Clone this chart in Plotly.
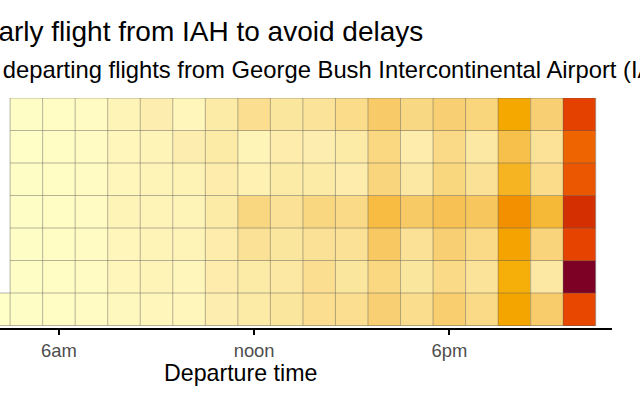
import math
import plotly.graph_objects as go

# ---- data (mean departure delay, minutes) ----
hours = list(range(4, 23))
days = ["Mon", "Tue", "Wed", "Thu", "Fri", "Sat", "Sun"]   # bottom -> top
hour_labels = {6: "6am", 12: "noon", 18: "6pm"}

# hours 4..22 ; None = no flights
mon = [0.6, 1.8, 2.4, 3.0, 4.3, 5.0, 5.0, 7.9, 9.4, 10.8, 13.0, 13.0, 16.9, 13.4, 17.4, 14.4, 26.6, 18.0, 42.0]
tue = [None, 1.8, 2.4, 3.0, 5.0, 5.8, 5.0, 8.6, 9.4, 10.1, 13.0, 10.8, 15.0, 10.8, 14.4, 11.5, 24.7, 10.1, 60.0]
wed = [None, 1.8, 2.4, 3.0, 5.0, 5.8, 5.8, 8.6, 12.2, 10.8, 12.2, 12.2, 18.8, 12.2, 17.1, 14.4, 27.2, 15.9, 42.6]
thu = [None, 1.8, 2.4, 3.0, 5.8, 5.8, 5.8, 9.4, 15.1, 12.2, 15.1, 14.4, 21.8, 18.4, 20.3, 19.4, 30.9, 22.5, 46.4]
fri = [None, 1.8, 2.4, 3.0, 5.0, 5.8, 6.5, 8.6, 7.2, 9.4, 9.4, 8.6, 15.6, 10.1, 15.3, 12.2, 23.5, 13.8, 40.1]
sat = [None, 1.2, 2.4, 3.0, 5.0, 5.8, 7.9, 9.4, 5.8, 8.6, 7.9, 9.4, 15.0, 8.6, 14.4, 10.1, 21.0, 11.9, 38.2]
sun = [None, 1.8, 2.4, 3.0, 5.8, 7.9, 5.0, 9.4, 13.0, 10.8, 11.5, 13.7, 18.2, 14.8, 17.1, 15.8, 26.0, 17.1, 43.2]
z = [mon, tue, wed, thu, fri, sat, sun]

title_text = "Take an early flight from IAH to avoid delays"
subtitle_text = "Average delay for departing flights from George Bush Intercontinental Airport (IAH)"
x_title = "Departure time"


# ---- colorspace sequential_hcl "YlOrRd" ----
def hcl_hex(L, C, H):
    h = math.radians(H)
    U, V = C * math.cos(h), C * math.sin(h)
    Xn, Yn, Zn = 95.047, 100.0, 108.883
    Y = Yn * ((L + 16) / 116) ** 3 if L > 8 else Yn * L / 903.3
    den = Xn + 15 * Yn + 3 * Zn
    un, vn = 4 * Xn / den, 9 * Yn / den
    u = U / (13 * L) + un
    v = V / (13 * L) + vn
    X = 9.0 * Y * u / (4 * v)
    Zc = -X / 3 - 5 * Y + 3 * Y / v
    x, y, zz = X / 100, Y / 100, Zc / 100
    rgb = [3.240479 * x - 1.537150 * y - 0.498535 * zz,
           -0.969256 * x + 1.875992 * y + 0.041556 * zz,
           0.055648 * x - 0.204043 * y + 1.057311 * zz]
    out = []
    for c in rgb:
        c = 12.92 * c if c <= 0.0031308 else 1.055 * (max(c, 0) ** (1 / 2.4)) - 0.055
        out.append(int(round(min(max(c, 0), 1) * 255)))
    return "#%02x%02x%02x" % tuple(out)


def ylorrd(i, h1=5, h2=85, c1=75, c2=40, cmax=180, l1=25, l2=99, p1=1.6, p2=1.3):
    j = 1 / (1 + abs(cmax - c1) / abs(cmax - c2))
    ip = i ** p1
    C = c2 + (cmax - c2) * ip / j if ip <= j else cmax - (cmax - c1) * (ip - j) / (1 - j)
    L = l2 - (l2 - l1) * i ** p2
    H = h2 - (h2 - h1) * i
    return hcl_hex(L, C, H)


n_stops = 41
colorscale = [[k / (n_stops - 1), ylorrd(k / (n_stops - 1))] for k in range(n_stops)]

vals = [v for row in z for v in row if v is not None]

fig = go.Figure()
fig.add_trace(go.Heatmap(
    x=hours, y=list(range(len(days))), z=z,
    colorscale=colorscale, zmin=min(vals), zmax=max(vals),
    showscale=False, hoverongaps=False,
))

# tile borders built from the occupied cells
edges = set()
for di, row in enumerate(z):
    for hi, v in enumerate(row):
        if v is None:
            continue
        h = hours[hi]
        x0, x1, y0, y1 = h - 0.5, h + 0.5, di - 0.5, di + 0.5
        edges.update({((x0, y0), (x1, y0)), ((x0, y1), (x1, y1)),
                      ((x0, y0), (x0, y1)), ((x1, y0), (x1, y1))})
bx, by = [], []
for (a, b) in sorted(edges):
    bx += [a[0], b[0], None]
    by += [a[1], b[1], None]
fig.add_trace(go.Scatter(x=bx, y=by, mode="lines",
                         line=dict(color="rgba(90,90,90,0.45)", width=1),
                         hoverinfo="skip", showlegend=False))

W, H = 640, 400
ml, mr, mt, mb = 0, 28, 98, 72
pw, ph = W - ml - mr, H - mt - mb


def px_x(x):
    return (x - ml) / pw


def px_y(y):
    return (H - mb - y) / ph


font = "Liberation Sans, Arial, sans-serif"
fig.update_layout(
    width=W, height=H,
    margin=dict(l=ml, r=mr, t=mt, b=mb, pad=0),
    paper_bgcolor="white", plot_bgcolor="white",
    font=dict(family=font),
    xaxis=dict(range=[4.19, 23.0], tickvals=list(hour_labels), ticktext=list(hour_labels.values()),
               showgrid=False, zeroline=False, showline=True, linecolor="black", linewidth=2,
               ticks="outside", ticklen=5, tickwidth=1.5, tickcolor="black",
               tickfont=dict(size=18.4, color="#4d4d4d"), automargin=False),
    yaxis=dict(range=[-0.577, 6.5], tickvals=list(range(len(days))), ticktext=days,
               showgrid=False, zeroline=False, showline=False, ticks="",
               tickfont=dict(size=18.4, color="#4d4d4d"), automargin=False),
    annotations=[
        dict(text=title_text, xref="paper", yref="paper", x=px_x(-125.5), y=px_y(31.5),
             xanchor="left", yanchor="middle", showarrow=False,
             font=dict(size=28, color="black")),
        dict(text=subtitle_text, xref="paper", yref="paper", x=px_x(-192.5), y=px_y(69.3),
             xanchor="left", yanchor="middle", showarrow=False,
             font=dict(size=23.8, color="black")),
        # x-axis title, centred on the full panel (which extends off the left edge)
        dict(text=x_title, xref="paper", yref="paper", x=px_x(240), y=px_y(372.5),
             xanchor="center", yanchor="middle", showarrow=False,
             font=dict(size=23.2, color="black")),
    ],
)

fig.write_html("out.html", config={"displayModeBar": False},
               post_script="document.body.style.margin='0';")
